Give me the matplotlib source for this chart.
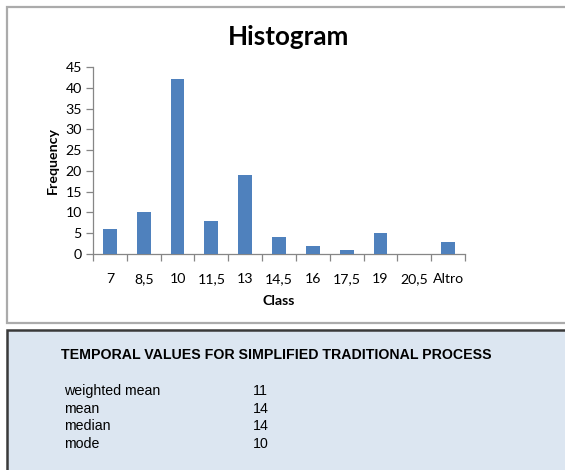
import matplotlib
matplotlib.use("Agg")
import matplotlib.pyplot as plt
from matplotlib.patches import Rectangle
import numpy as np

# Data
classes = ["7", "8,5", "10", "11,5", "13", "14,5", "16", "17,5", "19", "20,5", "Altro"]
frequency = [6, 10, 42, 8, 19, 4, 2, 1, 5, 0, 3]
y_ticks = [0, 5, 10, 15, 20, 25, 30, 35, 40, 45]

stats_title = "TEMPORAL VALUES FOR SIMPLIFIED TRADITIONAL PROCESS"
stat_names = ["weighted mean", "mean", "median", "mode"]
stat_values = ["11", "14", "14", "10"]

W, H = 565, 470
fig = plt.figure(figsize=(W / 100, H / 100), dpi=100)
fig.patch.set_facecolor("white")

def fx(px):
    return px / W

def fy(py):
    return 1 - py / H

# Top chart frame
fig.patches.append(Rectangle((fx(7), fy(323)), fx(600) - fx(7), fy(7) - fy(323),
                             transform=fig.transFigure, facecolor="white",
                             edgecolor="#ababab", linewidth=1.6, zorder=-5))
# Bottom panel
fig.patches.append(Rectangle((fx(7), fy(480)), fx(600) - fx(7), fy(330) - fy(480),
                             transform=fig.transFigure, facecolor="#dce6f1",
                             edgecolor="#3a3a3a", linewidth=1.8, zorder=-5))

font = "Lato"
fs = 10.2
ax = fig.add_axes([fx(93), fy(254), fx(465) - fx(93), fy(67) - fy(254)])
ax.set_zorder(2)
ax.set_facecolor("none")
x = np.arange(len(classes))
ax.bar(x, frequency, width=0.41, color="#4f81bd", zorder=3)
ax.set_xlim(-0.5, len(classes) - 0.5)
ax.set_ylim(0, 45)
ax.set_yticks(y_ticks)
ax.set_yticklabels([str(v) for v in y_ticks], fontsize=fs, family=font)
ax.set_xticks(x)
ax.set_xticklabels(classes, fontsize=fs, family=font)
ax.set_xticks(np.arange(len(classes) + 1) - 0.5, minor=True)
ax.tick_params(axis="x", which="major", length=0, pad=14)
ax.tick_params(axis="x", which="minor", length=5, width=0.9, color="#868686", direction="out")
ax.tick_params(axis="y", length=5, width=0.9, color="#868686", direction="out", pad=3)
for s in ["top", "right"]:
    ax.spines[s].set_visible(False)
for s in ["left", "bottom"]:
    ax.spines[s].set_color("#868686")
    ax.spines[s].set_linewidth(0.9)

ax.set_xlabel("Class", fontsize=fs, fontweight="bold", family=font, labelpad=7)
ax.set_ylabel("Frequency", fontsize=fs, fontweight="bold", family=font, labelpad=5)

fig.text(fx(289), fy(37), "Histogram", ha="center", va="center",
         fontsize=18.7, fontweight="bold", family=font)

# Bottom panel text
tfont = "Liberation Sans"
fig.text(fx(61), fy(355), stats_title, ha="left", va="center",
         fontsize=10.2, fontweight="bold", family=tfont)
rows_y = [391, 409, 426, 444]
for name, val, yy in zip(stat_names, stat_values, rows_y):
    fig.text(fx(64), fy(yy), name, ha="left", va="center", fontsize=10.2, family=tfont)
    fig.text(fx(253), fy(yy), val, ha="left", va="center", fontsize=10.2, family=tfont)

fig.savefig("out.png", dpi=100)
